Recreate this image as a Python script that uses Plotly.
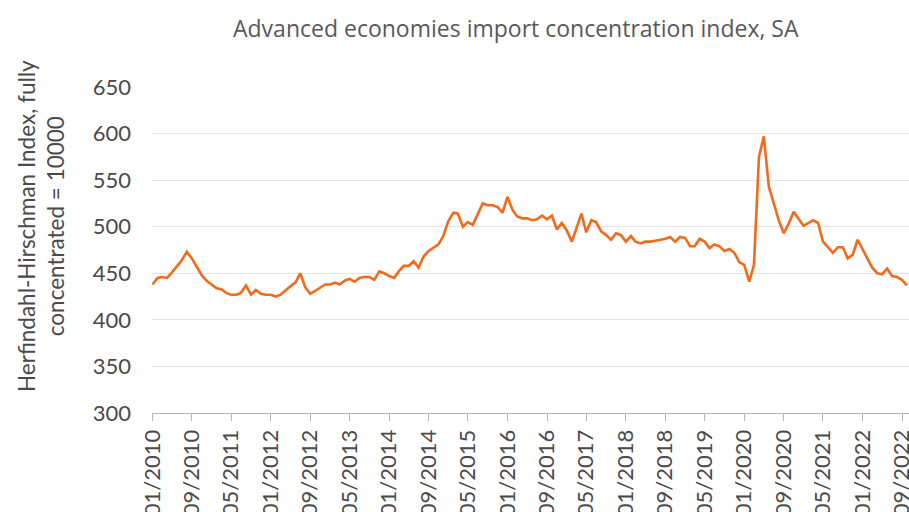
import pandas as pd
import plotly.graph_objects as go

start_month = "2010-01-01"

hhi_values = [
    438, 445, 446, 445, 451, 458, 464, 473, 466, 457, 448, 442,
    438, 434, 433, 429, 427, 427, 429, 437, 427, 432, 428, 427,
    427, 425, 427, 432, 436, 440, 450, 435, 428, 431, 435, 438,
    438, 440, 438, 442, 444, 441, 445, 446, 446, 443, 452, 450,
    447, 445, 452, 458, 458, 463, 456, 468, 474, 477, 481, 490,
    506, 515, 514, 500, 505, 502, 514, 525, 523, 523, 521, 515,
    532, 518, 511, 509, 509, 507, 508, 512, 508, 512, 497, 504,
    496, 484, 498, 514, 494, 507, 505, 495, 491, 486, 493, 491,
    484, 490, 484, 482, 484, 484, 485, 486, 487, 489, 484, 489,
    488, 479, 479, 487, 484, 477, 481, 479, 474, 476, 472, 462,
    459, 441, 459, 575, 597, 543, 525, 507, 493, 503, 516, 508,
    501, 504, 507, 504, 484, 478, 472, 478, 478, 466, 470, 486,
    476, 465, 456, 450, 449, 455, 447, 446, 443, 437,
]

tick_labels = [
    "01/2010", "09/2010", "05/2011", "01/2012", "09/2012", "05/2013",
    "01/2014", "09/2014", "05/2015", "01/2016", "09/2016", "05/2017",
    "01/2018", "09/2018", "05/2019", "01/2020", "09/2020", "05/2021",
    "01/2022", "09/2022",
]

y_ticks = [300, 350, 400, 450, 500, 550, 600, 650]

title_text = "Advanced economies import concentration index, SA"
y_title = "Herfindahl-Hirschman Index, fully<br>concentrated = 10000"

dates = pd.date_range(start_month, periods=len(hhi_values), freq="MS")
tick_dates = list(dates[::8])

FONT = "Lato"
fig = go.Figure()
fig.add_trace(go.Scatter(
    x=dates, y=hhi_values, mode="lines",
    line=dict(color="#F26A1B", width=2.6),
    hoverinfo="skip", showlegend=False,
))

fig.update_layout(
    width=909, height=512,
    margin=dict(l=152, r=0, t=87, b=99),
    paper_bgcolor="white", plot_bgcolor="white",
    font=dict(family=FONT, color="#555555"),
    showlegend=False,
)
fig.update_xaxes(
    type="date",
    range=["2009-12-29", "2022-10-14"],
    tickmode="array", tickvals=tick_dates, ticktext=tick_labels,
    tickangle=-90, tickfont=dict(size=22, color="#4a4a4a", family=FONT),
    ticklabeloverflow="allow",
    showline=True, linecolor="#b5b5b5", linewidth=1,
    ticks="outside", ticklen=7, tickcolor="#b5b5b5", tickwidth=1,
    showgrid=False, zeroline=False, automargin=False,
)
fig.update_yaxes(
    range=[300, 650], tickmode="array", tickvals=y_ticks,
    tickfont=dict(size=22, color="#4a4a4a", family=FONT),
    showgrid=True, gridcolor="#e4e4e4", gridwidth=1,
    showline=False, zeroline=False, ticks="",
    ticklabelstandoff=20, automargin=False,
)

fig.add_annotation(
    text=title_text, xref="paper", yref="paper",
    x=(516 - 152) / 757, y=1 + (87 - 28) / 326,
    xanchor="center", yanchor="middle", showarrow=False,
    font=dict(size=23, color="#595959", family="Open Sans", weight=500),
)
fig.add_annotation(
    text=y_title, xref="paper", yref="paper",
    x=(41 - 152) / 757, y=(413 - 226) / 326,
    xanchor="center", yanchor="middle", showarrow=False, textangle=-90,
    font=dict(size=22.5, color="#4a4a4a", family=FONT),
)

fig.write_html("out.html")
